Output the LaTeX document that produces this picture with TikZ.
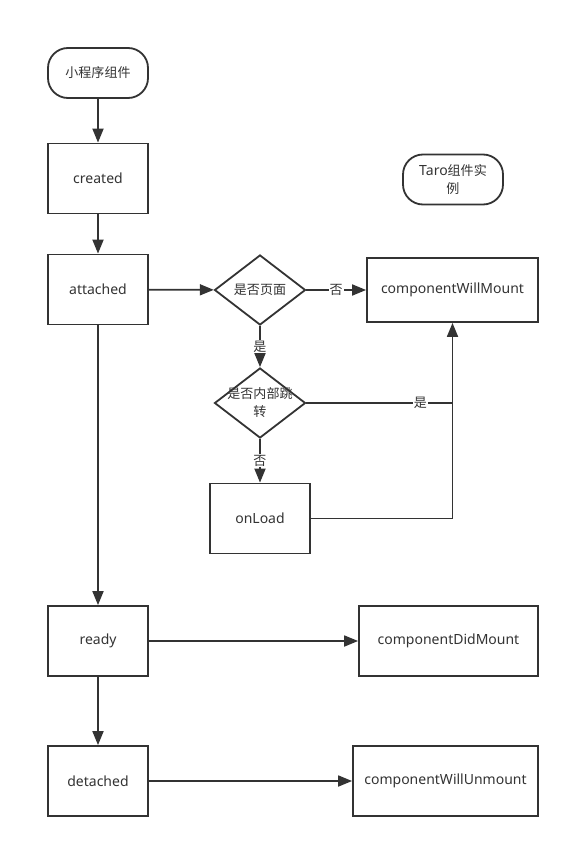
\documentclass[tikz,border=0pt]{standalone}
\usepackage{fontspec}
\setmainfont{Noto Sans}
\newfontfamily\cjk{Noto Sans CJK SC}[Scale=0.93]
\usetikzlibrary{shapes.geometric,arrows.meta}
\definecolor{ink}{HTML}{333333}

\tikzset{every path/.style={line width=1.8pt}}
\tikzset{
  every node/.append style={text=ink, font=\fontsize{14}{18}\selectfont},
  stepbox/.style={draw=ink, rectangle, minimum width=100pt, minimum height=70pt, inner sep=0pt},
  terminal/.style={draw=ink, rounded corners=20pt, minimum width=100pt, minimum height=50pt, inner sep=0pt, align=center},
  decision/.style={draw=ink, diamond, minimum width=91pt, minimum height=70pt, inner sep=0pt},
  flow/.style={draw=ink, -{Triangle[length=14pt,width=11pt]}},
  plain/.style={draw=ink},
  lbl/.style={fill=white, inner sep=1pt, font=\fontsize{14}{18}\selectfont\cjk},
}

\begin{document}
\begin{tikzpicture}[x=1pt,y=-1pt]
\useasboundingbox[fill=white] (0,0) rectangle (570,848);
\node[terminal] (mini) at (98,73) {\cjk 小程序组件};
\node[stepbox] (created) at (98,178.5) {created};
\node[stepbox] (attached) at (98,289.5) {attached};
\node[decision] (ispage) at (260,290) {\cjk 是否页面};
\node[stepbox, minimum width=171pt, minimum height=64pt] (willmount) at (452.5,290) {componentWillMount};
\node[terminal] (taro) at (453,179.5) {Taro{\cjk 组件实}\\{\cjk 例}};
\node[decision, label={[align=center, font=\fontsize{14}{18}\selectfont\cjk]center:是否内部跳\\转}] (isjump) at (260,403) {};
\node[stepbox] (onload) at (260,518.5) {onLoad};
\node[stepbox] (ready) at (98,641) {ready};
\node[stepbox, minimum width=179pt] (didmount) at (448.5,641) {componentDidMount};
\node[stepbox] (detached) at (98,781) {detached};
\node[stepbox, minimum width=185pt] (unmount) at (445.5,781) {componentWillUnmount};

\draw[flow] (mini) -- (created);
\draw[flow] (created) -- (attached);
\draw[flow] (attached) -- (ispage);
\draw[flow] (ispage) -- node[lbl] {否} (willmount);
\draw[flow] (ispage) -- node[lbl] {是} (isjump);
\draw[plain] (isjump.east) -- node[lbl, pos=0.78] {是} (isjump.east -| willmount.south);
\draw[flow] (isjump) -- node[lbl] {否} (onload);
\draw[flow] (onload.east) -| (willmount.south);
\draw[flow] (attached) -- (ready);
\draw[flow] (ready) -- (didmount);
\draw[flow] (ready) -- (detached);
\draw[flow] (detached) -- (unmount);
\end{tikzpicture}
\end{document}
